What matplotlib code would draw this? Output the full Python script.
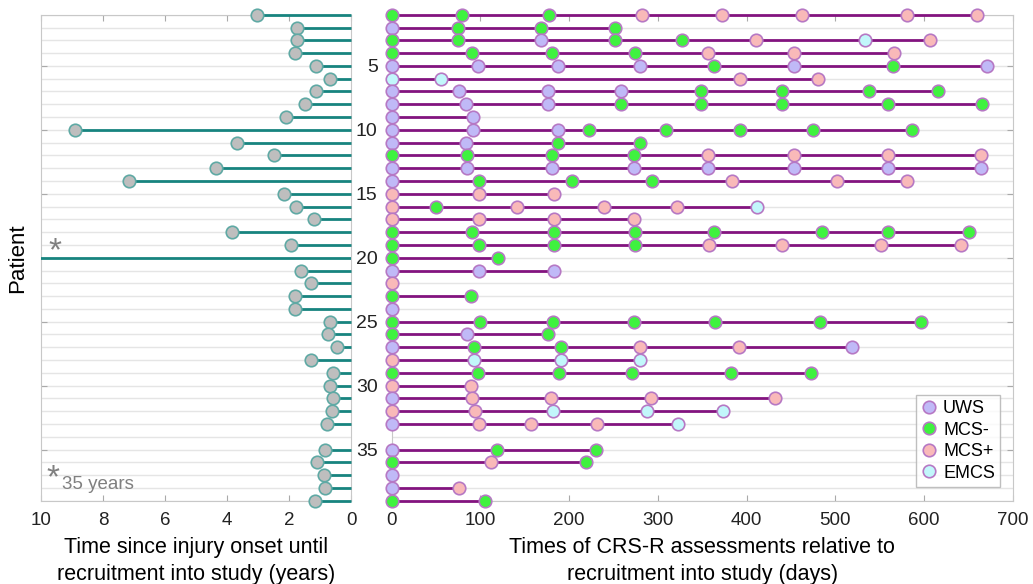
import numpy as np
import matplotlib
matplotlib.use("Agg")
from matplotlib import pyplot as plt
from matplotlib.lines import Line2D

# patient numbers 1..39 (patient 34 has no data)
patients = list(range(1, 40))

# time since injury onset (years); None = missing
onset_years = [3.04, 1.73, 1.73, 1.80, 1.14, 0.67, 1.12, 1.47, 2.10, 8.91,
               3.69, 2.48, 4.35, 7.15, 2.15, 1.76, 1.18, 3.85, 1.95, 35.0,
               1.60, 1.28, 1.82, 1.82, 0.69, 0.74, 0.46, 1.30, 0.59, 0.68,
               0.59, 0.61, 0.77, None, 0.84, 1.09, 0.88, 0.83, 1.17]

# assessment days and diagnoses (U=UWS, N=MCS-, P=MCS+, E=EMCS)
days = [
    [0, 79, 177, 282, 372, 463, 581, 660],
    [0, 75, 168, 252],
    [0, 75, 168, 252, 327, 411, 533, 607],
    [0, 91, 181, 274, 357, 454, 566],
    [0, 97, 187, 280, 363, 454, 565, 671],
    [0, 56, 393, 481],
    [0, 76, 176, 259, 349, 440, 538, 616],
    [0, 84, 176, 259, 349, 440, 559, 665],
    [0, 92],
    [0, 92, 188, 223, 309, 393, 475, 587],
    [0, 84, 188, 280],
    [0, 85, 181, 273, 356, 454, 559, 664],
    [0, 85, 181, 273, 356, 454, 559, 664],
    [0, 98, 203, 293, 384, 502, 581],
    [0, 98, 183],
    [0, 50, 141, 239, 322, 412],
    [0, 98, 183, 273],
    [0, 91, 183, 274, 363, 485, 559, 651],
    [0, 98, 183, 274, 358, 440, 552, 642],
    [0, 120],
    [0, 98, 183],
    [0],
    [0, 90],
    [0],
    [0, 100, 182, 273, 364, 483, 597],
    [0, 85, 176],
    [0, 93, 191, 280, 392, 519],
    [0, 93, 191, 280],
    [0, 97, 189, 271, 383, 473],
    [0, 89],
    [0, 91, 180, 292, 432],
    [0, 94, 182, 288, 374],
    [0, 98, 157, 231, 323],
    [],
    [0, 119, 230],
    [0, 112, 219],
    [0],
    [0, 76],
    [0, 105],
]
states = ["NNNPPPPP", "UNNN", "NNUNNPEP", "NNNNPPP", "UUUUNUNU", "EEPP",
          "UUUUNNNN", "UUUNNNNN", "UU", "UUUNNNNN", "UUNN", "NNNNPPPP",
          "UUUUUUUU", "UNNNPPP", "PPP", "PNPPPE", "PPPP", "NNNNNNNN",
          "NNNNPPPP", "NN", "UUU", "P", "NN", "U", "NNNNNNN", "NUN",
          "UNNPPU", "PEEE", "NNNNNN", "PP", "UPPPP", "PPEEE", "UPPPE", "",
          "UNN", "NPN", "U", "UP", "NN"]

state_names = {"U": "UWS", "N": "MCS-", "P": "MCS+", "E": "EMCS"}
state_colors = {"U": "#c0b9f7", "N": "#3ff23f", "P": "#f9b9b9", "E": "#c2f7fb"}

plt.rcParams["font.family"] = ["Liberation Sans", "DejaVu Sans"]
plt.rcParams["xtick.direction"] = "in"
plt.rcParams["ytick.direction"] = "in"

fig = plt.figure(figsize=(10.33, 5.84), dpi=100)
ax1 = fig.add_axes([0.0397, 0.1426, 0.3001, 0.8322])
ax2 = fig.add_axes([0.3791, 0.1426, 0.6013, 0.8322])

grid_c = "#e5e5e5"
spine_c = "#c8c8c8"
teal = "#17847f"
purple = "#83137f"
medge = "#b678c4"

for ax in (ax1, ax2):
    ax.set_ylim(39, 1)
    for p in patients:
        ax.axhline(p, color=grid_c, lw=1, zorder=0)
    for s in ax.spines.values():
        s.set_color(spine_c)
    ax.tick_params(colors="#aaaaaa", labelcolor="#222222", labelsize=13.5,
                   length=4, top=True, right=True)
    ax.set_yticks([5, 10, 15, 20, 25, 30, 35])

# left panel: time since injury
for p, yr in zip(patients, onset_years):
    if yr is None:
        continue
    ax1.plot([0, yr], [p, p], color=teal, lw=2, zorder=3,
             solid_capstyle="butt", clip_on=(yr > 10))
    if yr <= 10:
        ax1.plot(yr, p, "o", ms=9, mfc="#bebebe", mec="#5fa9a4", mew=1.2,
                 zorder=4, clip_on=False)
ax1.set_xlim(10, 0)
ax1.set_xticks([10, 8, 6, 4, 2, 0])
ax1.set_yticklabels([])
ax1.tick_params(axis="x", pad=8)
ax1.set_ylabel("Patient", fontsize=16, labelpad=6)
ax1.set_xlabel("Time since injury onset until\nrecruitment into study (years)",
               fontsize=15.5, labelpad=6, linespacing=1.35)
ax1.text(9.55, 19.55, "*", color="#808080", fontsize=24, ha="center", va="center")
ax1.text(9.6, 37.3, "*", color="#808080", fontsize=24, ha="center", va="center")
ax1.text(9.32, 37.7, "35 years", color="#808080", fontsize=13.5, ha="left",
         va="center")

# right panel: CRS-R assessments
for p, d, st in zip(patients, days, states):
    if not d:
        continue
    ax2.plot(d, [p] * len(d), color=purple, lw=2, zorder=3, clip_on=False)
    for x, s in zip(d, st):
        ax2.plot(x, p, "o", ms=9, mfc=state_colors[s], mec=medge, mew=1.2,
                 zorder=4, clip_on=False)
ax2.set_xlim(0, 700)
ax2.set_xticks(np.arange(0, 701, 100))
ax2.tick_params(axis="x", pad=8)
ax2.tick_params(axis="y", pad=10)
for lab in ax2.get_yticklabels():
    lab.set_fontsize(14)
ax2.set_xlabel("Times of CRS-R assessments relative to\nrecruitment into study (days)",
               fontsize=15.5, labelpad=6, linespacing=1.35)

handles = [Line2D([], [], ls="none", marker="o", ms=9, mfc=state_colors[k],
                  mec=medge, mew=1.2, label=state_names[k]) for k in "UNPE"]
leg = ax2.legend(handles=handles, loc="lower right", bbox_to_anchor=(0.98, 0.028),
                 fontsize=13, frameon=True, fancybox=False, handlelength=0.8,
                 handletextpad=0.4, borderpad=0.3, labelspacing=0.25,
                 borderaxespad=0)
leg.set_zorder(5)
leg.get_frame().set_edgecolor("#b0b0b0")
leg.get_frame().set_linewidth(1)

fig.savefig("out.png", dpi=100)
